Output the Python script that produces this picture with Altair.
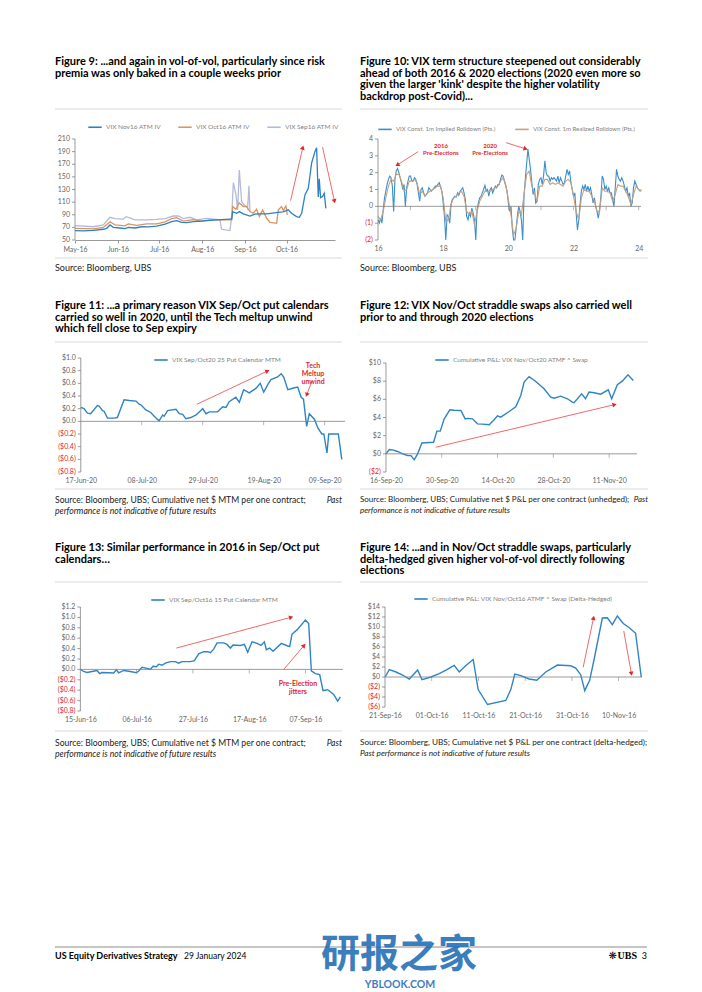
import math
import altair as alt
import pandas as pd

FONT = "Lato"
TITLE_C = "#000000"
TXT_C = "#1a1a1a"
AX_C = "#808080"
LBL_C = "#666666"
LEG_C = "#7f7f7f"
RED = "#e3262b"
ARROW_C = "#f06a6a"
SEP_C = "#d9d9d9"
BLUE = "#2f84c4"

# ---------------- Figure 9 (days since 1 May 2016) ----------------
f9_start = "2016-05-01"
f9_names = ["VIX Nov16 ATM IV", "VIX Oct16 ATM IV", "VIX Sep16 ATM IV"]
f9_colors = ["#2f80c2", "#d9955f", "#b4badc"]
f9_nov_day = [0, 6, 13.3, 20.5, 22.9, 25.3, 27.7, 32.5, 36.1, 38.6, 43.4, 48.2, 53, 59, 65.1, 69.9, 73.5,
              77.1, 80.7, 85.5, 91.6, 97.6, 102.4, 112, 113.3, 114, 116.9, 118.8, 121.7, 126.5, 130.1,
              133.7, 138.6, 148.2, 150.6, 154.2, 156.6, 160.2, 162.2, 163.9, 166.3, 168.7, 171.1, 173.5,
              174.7, 175.9, 176.6, 177.6, 179, 180.2, 181.4]
f9_nov_val = [64.8, 64.3, 65.4, 67, 68.5, 73.8, 70, 69, 68, 70, 69, 71, 70.7, 72, 75, 79, 80.7,
              78, 77.5, 79, 80, 81, 81.8, 83, 83, 95, 92.4, 95, 91.3, 88, 91,
              91.3, 91.3, 94, 94.5, 97.7, 92.4, 87, 86, 92.4, 121.5, 132, 172, 190,
              196, 118, 147, 117, 119, 124, 100]
f9_oct_day = [0, 13.3, 20.5, 25.3, 28.9, 36.1, 38.6, 44.6, 51.8, 59, 65.1, 69.9, 73.5, 78.3, 85.5, 91.6,
              97.6, 113.3, 114, 116.4, 118.8, 121.7, 124.1, 126.5, 128.9, 131.3, 133.3, 135.7, 138.6,
              141, 145.8, 147, 149.4, 150.6, 152.5, 153.5]
f9_oct_val = [68.5, 67.5, 70, 79, 74, 72.5, 75.4, 73.3, 75.4, 75.4, 78.6, 84, 85.5, 80, 82.3, 80,
              81.8, 81.8, 103, 98.7, 109, 103, 103, 95, 92.4, 98.7, 87, 97.7, 84.4,
              78, 76.5, 97.7, 103, 96.6, 104, 89.7]
f9_sep_day = [0, 13.3, 20.5, 25.3, 28.9, 34.9, 36.9, 38.6, 43.4, 51.8, 59, 65.1, 71.1, 74.7, 78.3, 83.1,
              88, 95.2, 104.8, 106, 112, 113.3, 114.5, 116.4, 117.6, 118.8, 120.5, 122.2, 124.1, 124.8,
              125.8, 126.5]
f9_sep_val = [72.8, 71, 73.8, 86, 84, 83, 87, 86, 81.8, 81.8, 82.8, 84, 88, 88, 84, 86,
              81.8, 84.4, 81.8, 67, 65, 87, 141, 121.5, 97.7, 161, 111, 105.6, 103, 100,
              136, 95]
f9_ticks = ["2016-05-01", "2016-06-01", "2016-07-01", "2016-08-01", "2016-09-01", "2016-10-01"]
f9_yvals = [50, 70, 90, 110, 130, 150, 170, 190, 210]
f9_arrow_from = [(155.9, 112.3), (179.0, 197.0)]
f9_arrow_to = [(164.6, 195.3), (187.5, 112.6)]

# ---------------- Figure 10 (decimal years) ----------------
f10_names = ["VIX Const. 1m Implied Rolldown (Pts.)", "VIX Const. 1m Realized Rolldown (Pts.)"]
f10_colors = ["#3a8fd0", "#c9a07a"]
f10_first_year = 2016
f10_imp_step = 0.04
f10_imp = [-0.8, -1.0, -0.7, -1.0, -0.2, 0.5, 0.9, 1.3, 1.6, 1.8,
           1.7, 1.2, -0.3, 1.6, 2.1, 2.25, 2.0, 1.7, 1.4, 1.0,
           1.3, 0.0, 1.1, 1.5, 1.8, 1.8, 1.5, 1.5, 1.7, 1.6,
           1.3, 0.8, 0.3, 1.0, 1.1, 0.8, 0.6, 0.7, 0.8, 1.1,
           1.0, 0.9, 1.0, 1.1, 1.2, 1.2, 1.3, 1.4, 1.15, 0.9,
           0.2, -0.6, -2.0, -0.5, -0.6, -1.0, 0.1, 0.4, 0.5, 0.6,
           0.55, 0.8, 0.65, 0.9, 1.0, 1.1, 0.8, 0.4, -0.6, -0.8,
           -0.4, -0.6, -0.1, -0.4, -0.8, -2.0, -0.2, 0.2, 0.5, 0.6,
           0.8, 1.0, 1.25, 0.9, 1.0, 0.6, 1.0, 1.1, 0.8, 1.0,
           1.2, 1.1, 1.3, 1.3, 1.6, 1.85, 1.8, 1.5, 1.2, 0.9,
           0.2, -0.3, 0.0, -1.3, -2.0, -2.0, -1.3, -0.5, 0.0, -0.3,
           -0.8, -2.0, 0.6, 1.6, 2.5, 3.4, 2.8, 2.2, 1.4, 0.7,
           1.1, 0.2, 0.3, 1.3, 1.6, 1.7, 1.3, 1.8, 2.7, 2.0,
           1.8, 1.8, 1.5, 1.7, 1.6, 1.7, 1.6, 1.5, 1.8, 1.4,
           1.7, 1.5, 1.3, 1.4, 1.8, 2.2, 1.9, 2.1, 1.4, 1.0,
           0.6, 0.8, -0.4, -1.4, -0.8, 0.1, 0.9, 1.2, 1.0, 1.3,
           0.9, 1.2, 0.9, 1.1, 0.7, 0.2, 0.5, 0.0, -0.3, -0.7,
           -0.2, 0.6, 1.8, 1.6, 1.0, 1.2, 0.9, 1.1, 0.8, 0.8,
           0.4, 0.0, 1.1, 2.2, 1.8, 1.6, 1.5, 1.7, 1.5, 1.2,
           0.9, 1.1, 0.6, 0.8, 0.0, 0.2, 1.1, 1.5, 1.3, 1.1,
           1.0, 0.9, 1.0]
f10_real_step = 0.08
f10_real = [-0.6, -0.8, -0.3, 0.5, 1.2, 1.6, 1.5, 1.9, 1.9, 1.5,
            0.9, 1.0, 1.5, 1.5, 1.6, 1.4, 0.7, 0.9, 0.6, 0.8,
            0.9, 1.0, 1.1, 1.2, 1.2, 0.5, -0.9, -0.8, 0.1, 0.5,
            0.6, 0.8, 0.9, 0.6, -0.3, -0.5, -0.3, -1.1, -0.3, 0.3,
            0.6, 0.9, 0.9, 0.9, 1.0, 1.1, 1.2, 1.5, 1.7, 1.3,
            0.4, -0.5, -1.7, -1.3, -0.3, -0.5, 0.7, 1.9, 2.1, 1.2,
            0.8, 0.3, 1.2, 1.2, 1.6, 1.6, 1.3, 1.4, 1.3, 1.4,
            1.3, 1.2, 1.5, 1.6, 1.4, 0.6, -0.3, -0.8, 0.5, 1.0,
            0.9, 0.9, 0.6, 0.3, -0.3, -0.3, 1.1, 0.9, 0.9, 0.8,
            0.3, 0.7, 1.3, 1.2, 1.2, 0.9, 0.6, 0.1, 0.7, 1.2,
            1.0, 0.9]
f10_years = [2016, 2017, 2018, 2019, 2020, 2021, 2022, 2023, 2024]
f10_yvals = [-2, -1, 0, 1, 2, 3, 4]
f10_notes = [(2017.93, 3.6, "2016\nPre-Elections"), (2019.44, 3.6, "2020\nPre-Elections")]
f10_arrow_from = [(2017.23, 3.25), (2019.93, 3.78)]
f10_arrow_to = [(2016.61, 2.48), (2020.51, 3.43)]

# ---------------- Figure 11 (days since 17 Jun 2020) ----------------
f11_start = "2020-06-17"
f11_name = "VIX Sep/Oct20 25 Put Calendar MTM"
f11_day = [0, 1.1, 2.3, 3.4, 5.7, 6.3, 7.5, 8, 9.2, 11.5, 12.6, 14.9, 16.7, 19, 20.1, 20.7, 22.4, 24.1,
           25.3, 26.4, 27, 28.2, 28.7, 29.9, 32.8, 33.9, 35.1, 36.2, 37.9, 39.7, 42, 43.1, 44.3, 47.1,
           48.9, 50, 51.1, 53.4, 54.6, 56.1, 58, 60.3, 61.8, 63, 64.4, 65.5, 67.8, 69, 69.9, 71.3, 73.6,
           74.7, 75.9, 76.7, 77.8, 78.7, 80.5, 81.6, 83, 83.7, 84.8, 85.4, 88.7, 89.9]
f11_val = [0.22, 0.20, 0.13, 0.12, 0.25, 0.24, 0.17, 0.16, 0.05, 0.05, 0.06, 0.34, 0.33, 0.32, 0.27, 0.26,
           0.18, 0.14, 0.08, 0.03, 0.01, 0.10, 0.08, 0.17, 0.19, 0.12, 0.11, 0.04, 0.06, 0.10, 0.20, 0.12,
           0.15, 0.15, 0.23, 0.22, 0.31, 0.38, 0.30, 0.50, 0.45, 0.52, 0.60, 0.46, 0.58, 0.66, 0.70, 0.75,
           0.70, 0.50, 0.53, 0.54, 0.38, 0.35, -0.08, 0.12, 0.03, -0.10, -0.20, -0.20, -0.50, -0.20,
           -0.20, -0.60]
f11_ticks = ["2020-06-17", "2020-07-08", "2020-07-29", "2020-08-19", "2020-09-09"]
f11_yvals = [-0.8, -0.6, -0.4, -0.2, 0.0, 0.2, 0.4, 0.6, 0.8, 1.0]
f11_notes = [(80.0, 0.87, "Tech\nMeltup\nunwind")]
f11_arrow_from = [(79.6, 0.63), (40.0, 0.27)]
f11_arrow_to = [(77.9, 0.43), (64.1, 0.79)]

# ---------------- Figure 12 (days since 16 Sep 2020) ----------------
f12_start = "2020-09-16"
f12_name = "Cumulative P&L: VIX Nov/Oct20 ATMF ^ Swap"
f12_day = [0, 0.84, 1.67, 2.92, 4.18, 5.43, 6.27, 7.1, 7.94, 9.02, 10.86, 11.95, 12.78, 13.62, 14.62,
           16.04, 17.13, 18.8, 19.88, 20.47, 21.72, 22.97, 24.23, 25.9, 26.98, 27.99, 28.82, 30.91,
           32.58, 33.83, 34.67, 35.92, 37.59, 39.68, 41.35, 42.19, 43.86, 45.53, 46.78, 47.2, 49.12,
           50.08, 50.96, 52.21, 53.88, 55.8, 56.64, 58.06, 59.31, 60.73, 62.07]
f12_val = [0, 0.48, 0.44, 0.26, 0, -0.18, -0.2, -0.66, 0, 1.2, 1.25, 1.28, 2.5, 2.5, 3.85,
           4.85, 4.8, 4.77, 3.85, 3.9, 3.85, 3.3, 3.27, 3.2, 3.67, 4.18, 4.04, 4.66,
           5.18, 6.42, 7.9, 8.5, 7.97, 7.16, 6.24, 6.13, 6.35, 6.06, 5.69, 5.62, 6.6,
           6.06, 6.8, 6.72, 6.57, 7.05, 6.06, 7.6, 8.0, 8.7, 8.08]
f12_ticks = ["2020-09-16", "2020-09-30", "2020-10-14", "2020-10-28", "2020-11-11"]
f12_yvals = [-2, 0, 2, 4, 6, 8, 10]
f12_arrow_from = [(12.5, 0.73)]
f12_arrow_to = [(57.2, 5.4)]

# ---------------- Figure 13 (days since 15 Jun 2016) ----------------
f13_start = "2016-06-15"
f13_name = "VIX Sep/Oct16 15 Put Calendar MTM"
f13_day = [0, 1.24, 2.49, 4.35, 6.22, 7.21, 8.08, 10.57, 12.44, 13.43, 14.3, 16.17, 18.66, 20.9, 21.77,
           23.01, 24.88, 26.12, 27.11, 28.36, 29.23, 30.47, 31.72, 33.58, 35.45, 36.69, 37.94, 41.04,
           42.54, 44.15, 46.02, 47.51, 48.51, 49.75, 51, 53.48, 54.73, 55.97, 56.97, 59.7, 61.19,
           62.44, 64.05, 65.92, 67.41, 68.66, 69.4, 70.65, 71.89, 75, 77.36, 78.11, 78.98, 80.85,
           83.96, 85.2, 86.19, 87.69, 89.3, 90.55, 91.42, 92.29, 94.53, 96.02, 97.01]
f13_val = [0, -0.04, -0.06, -0.04, -0.02, -0.08, -0.06, -0.065, -0.07, -0.01, -0.065, -0.02, -0.04,
           -0.065, -0.03, 0.04, 0.02, 0, 0.06, 0.05, 0.10, 0.08, 0.12, 0.15, 0.15, 0.12, 0.15, 0.15,
           0.17, 0.30, 0.34, 0.34, 0.32, 0.39, 0.51, 0.51, 0.48, 0.41, 0.47, 0.46, 0.48,
           0.33, 0.53, 0.50, 0.46, 0.53, 0.38, 0.41, 0.35, 0.50, 0.45, 0.44, 0.68, 0.76,
           0.95, 0.88, -0.03, -0.08, -0.10, -0.41, -0.40, -0.39, -0.48, -0.61, -0.53]
f13_ticks = ["2016-06-15", "2016-07-06", "2016-07-27", "2016-08-17", "2016-09-07"]
f13_yvals = [-0.8, -0.6, -0.4, -0.2, 0.0, 0.2, 0.4, 0.6, 0.8, 1.0, 1.2]
f13_notes = [(81.2, -0.28, "Pre-Election\njitters")]
f13_arrow_from = [(35.8, 0.41), (75.9, 0.0)]
f13_arrow_to = [(78.4, 1.0), (83.3, 0.45)]

# ---------------- Figure 14 (days since 21 Sep 2016) ----------------
f14_start = "2016-09-21"
f14_name = "Cumulative P&L: VIX Nov/Oct16 ATMF ^ Swap (Delta-Hedged)"
f14_day = [0, 0.93, 2.35, 3.77, 5.2, 6.98, 7.91, 9.83, 11.61, 13.25, 14.81, 15.88, 17.31, 18.87, 19.94,
           21.94, 25.85, 26.92, 27.78, 29.06, 30.84, 32.48, 34.4, 36.89, 39.74, 40.81, 41.88, 42.74,
           43.8, 44.73, 46.51, 47.58, 48.65, 49.72, 51, 52.21, 53.63, 54.84]
f14_val = [0, 1.46, 1.0, 0.4, -0.4, 1.39, -0.53, 0, 0.66, 1.46, 2.32, 1.0, 2.32, 3.5, -2.52,
           -5.5, -4.7, -2.52, 0.6, 0.27, -0.4, -0.66, 1.0, 2.39, 2.25, 1.79, 0.46, -2.72,
           -0.66, 3.45, 11.8, 11.85, 10.47, 12.2, 10.7, 9.9, 8.75, 0]
f14_ticks = ["2016-09-21", "2016-10-01", "2016-10-11", "2016-10-21", "2016-10-31", "2016-11-10"]
f14_yvals = [-6, -4, -2, 0, 2, 4, 6, 8, 10, 12, 14]
f14_arrow_from = [(42.4, 1.92), (51.1, 9.2)]
f14_arrow_to = [(44.6, 11.7), (52.7, 0.8)]

# ---------------- layout ----------------
ORIGIN_X, ORIGIN_Y = 75, 139
COL_GAP, ROW_GAP = 33, 118
SIZES = {9: (260, 101, 0), 10: (263, 101, 0), 11: (270, 114, 0),
         12: (259, 114, 5), 13: (268, 121, 17), 14: (264, 117, 17)}
col1_x = ORIGIN_X + max(SIZES[k][0] for k in (9, 11, 13)) + COL_GAP
row_y = [ORIGIN_Y]
row_y.append(row_y[0] + max(SIZES[9][1], SIZES[10][1]) + ROW_GAP)
row_y.append(row_y[1] + max(SIZES[11][1], SIZES[12][1]) + ROW_GAP)
GEOM = {}
for k, (col, row) in {9: (0, 0), 10: (1, 0), 11: (0, 1), 12: (1, 1), 13: (0, 2), 14: (1, 2)}.items():
    w, h, top = SIZES[k]
    GEOM[k] = dict(ox=ORIGIN_X if col == 0 else col1_x, oy=row_y[row], w=w, h=h, top=top)


def to_dt(ts):
    ts = pd.Timestamp(ts)
    return alt.DateTime(year=ts.year, month=ts.month, date=ts.day, hours=ts.hour)


def page_text(p, x, y, txt, size=8, weight="normal", style="normal", color=TXT_C,
              align="left", font=FONT, lh=None, opacity=1.0):
    g = GEOM[p]
    return alt.Chart(pd.DataFrame({"t": [txt]})).mark_text(
        align=align, baseline="middle", font=font, fontSize=size, fontWeight=weight,
        fontStyle=style, color=color, lineBreak="\n", lineHeight=lh if lh else size * 1.2,
        opacity=opacity,
    ).encode(x=alt.value(x - g["ox"]), y=alt.value(y - g["oy"]), text="t:N")


def page_hline(p, x1, x2, y, color=SEP_C, width=1.0):
    g = GEOM[p]
    return alt.Chart(pd.DataFrame({"a": [0]})).mark_rule(color=color, strokeWidth=width).encode(
        x=alt.value(x1 - g["ox"]), x2=alt.value(x2 - g["ox"]), y=alt.value(y - g["oy"]))


def column_texts(p, left, title, title_y, sep_top, sep_bot, src_lines, src_size):
    x1, x2 = (55, 342) if left else (360, 648)
    out = [page_text(p, x1, title_y, title, size=11, weight="bold", color=TITLE_C, lh=11.5),
           page_hline(p, x1, x2, sep_top), page_hline(p, x1, x2, sep_bot)]
    out += [page_text(p, x1 if a == "left" else x2, y, t, size=src_size, style=s, align=a)
            for (t, y, s, a) in src_lines]
    return out


def fmt_plain(v):
    return f"({abs(v):g})" if v < 0 else f"{v:g}"


def fmt_dollar1(v):
    return f"(${abs(v):.1f})" if v < 0 else f"${v:.1f}"


def fmt_dollar0(v):
    return f"(${abs(v):.0f})" if v < 0 else f"${v:.0f}"


NOAX = None


def build_panel(p, df, xtype, xscale, xaxis, ymin, ymax, yvals, yfmt, neg_red, names, colors,
                legend, ext_left, pxx, zero_ticks=None, stroke=1.4, arrows=None, notes=None,
                texts=(), note_size=7):
    g = GEOM[p]
    plot_h = g["h"] - g["top"]
    ytop = ymax + g["top"] * (ymax - ymin) / plot_h
    pxy = plot_h / (ymax - ymin)
    yscale = alt.Scale(domain=[ymin, ytop], nice=False, zero=False)
    layers = [alt.Chart(df).mark_line(strokeWidth=stroke).encode(
        x=alt.X(f"x:{xtype}", scale=xscale, axis=xaxis),
        y=alt.Y("v:Q", scale=yscale, axis=NOAX),
        color=alt.Color("s:N", scale=alt.Scale(domain=names, range=colors), legend=legend),
    )]
    # y axis: line, ticks and labels placed through the y scale
    layers.append(alt.Chart(pd.DataFrame({"a": [0]})).mark_rule(color=AX_C, strokeWidth=0.8).encode(
        x=alt.value(ext_left), y=alt.YDatum(ymin, axis=NOAX), y2=alt.datum(ymax)))
    ylab = pd.DataFrame({"y": yvals, "lab": [yfmt(v) for v in yvals],
                         "c": [RED if (neg_red and v < 0) else LBL_C for v in yvals]})
    layers.append(alt.Chart(ylab).mark_rule(color=AX_C, strokeWidth=0.8).encode(
        x=alt.value(ext_left - 3), x2=alt.value(ext_left), y=alt.Y("y:Q", axis=NOAX)))
    layers.append(alt.Chart(ylab).mark_text(align="right", baseline="middle", fontSize=7, font=FONT).encode(
        x=alt.value(ext_left - 5), y=alt.Y("y:Q", axis=NOAX), text="lab:N", color=alt.Color("c:N", scale=None)))
    if zero_ticks is not None:
        layers.append(alt.Chart(pd.DataFrame({"a": [0]})).mark_rule(color=AX_C, strokeWidth=0.8).encode(
            x=alt.value(ext_left), x2=alt.value(g["w"]), y=alt.YDatum(0, axis=NOAX)))
        layers.append(alt.Chart(pd.DataFrame({"x": zero_ticks})).mark_tick(
            orient="vertical", size=4, thickness=0.8, color=AX_C, yOffset=2).encode(
            x=alt.X(f"x:{xtype}"), y=alt.YDatum(0, axis=NOAX)))
    if arrows:
        conv, a_from, a_to = arrows
        rows, heads = [], []
        for k, ((xa, ya), (xb, yb)) in enumerate(zip(a_from, a_to)):
            rows += [{"id": k, "x": conv(xa), "y": ya}, {"id": k, "x": conv(xb), "y": yb}]
            ang = math.degrees(math.atan2((xb - xa) * pxx, (yb - ya) * pxy)) % 360
            heads.append({"x": conv(xb), "y": yb, "ang": ang})
        layers.append(alt.Chart(pd.DataFrame(rows)).mark_line(color=ARROW_C, strokeWidth=1).encode(
            x=alt.X(f"x:{xtype}"), y=alt.Y("y:Q", axis=NOAX), detail="id:N"))
        layers.append(alt.Chart(pd.DataFrame(heads)).mark_point(
            shape="triangle", filled=True, size=24, color=RED, opacity=1).encode(
            x=alt.X(f"x:{xtype}"), y=alt.Y("y:Q", axis=NOAX), angle=alt.Angle("ang:Q", scale=None)))
    if notes:
        conv, items = notes
        ndf = pd.DataFrame({"x": [conv(a) for a, _, _ in items], "y": [b for _, b, _ in items],
                            "t": [c for _, _, c in items]})
        layers.append(alt.Chart(ndf).mark_text(
            color=RED, fontWeight="bold", fontSize=note_size, font=FONT, lineBreak="\n",
            lineHeight=note_size + 1, align="center", baseline="middle").encode(
            x=alt.X(f"x:{xtype}"), y=alt.Y("y:Q", axis=NOAX), text="t:N"))
    layers += list(texts)
    return alt.layer(*layers).properties(width=g["w"], height=g["h"])


def legend_for(p, lx, ly, size=6.5, pad=14):
    return alt.Legend(title=None, orient="none", legendX=lx, legendY=ly, direction="horizontal",
                      symbolType="stroke", symbolSize=180, symbolStrokeWidth=1.6, labelFontSize=size,
                      labelColor=LEG_C, labelFont=FONT, columnPadding=pad, labelOffset=3, padding=0,
                      labelLimit=400)


def temporal(p, start, dom, series, names, colors, ticks, fmt, ymin, ymax, yvals, yfmt, neg_red,
             legend, zero, arrows=None, notes=None, texts=(), stroke=1.4):
    g = GEOM[p]
    d0, d1 = pd.Timestamp(dom[0]), pd.Timestamp(dom[1])
    total = (d1 - d0) / pd.Timedelta(days=1)
    pxx = g["w"] / total
    ext_left = ((pd.Timestamp(start) - d0) / pd.Timedelta(days=1)) * pxx
    conv = lambda d: pd.Timestamp(start) + pd.Timedelta(days=d)
    rows = []
    for name, days, vals in series:
        rows += [{"x": conv(d), "v": v, "s": name} for d, v in zip(days, vals)]
    df = pd.DataFrame(rows)
    xscale = alt.Scale(domain=[to_dt(d0), to_dt(d1)])
    if zero:
        xaxis = alt.Axis(values=[to_dt(t) for t in ticks], format=fmt, title=None, domain=False,
                         ticks=False, tickSize=0, labelPadding=4, labelFlush=False, labelOverlap=False,
                         labelFontSize=7, labelColor=LBL_C, labelFont=FONT, grid=False)
        zt = [pd.Timestamp(t) for t in ticks[1:]]
    else:
        xaxis = alt.Axis(values=[to_dt(t) for t in ticks], format=fmt, title=None, domain=True,
                         domainColor=AX_C, domainWidth=0.8, ticks=True, tickSize=3, tickColor=AX_C,
                         tickWidth=0.8, labelPadding=2, labelFlush=False, labelOverlap=False,
                         labelFontSize=7, labelColor=LBL_C, labelFont=FONT, grid=False)
        zt = None
    return build_panel(p, df, "T", xscale, xaxis, ymin, ymax, yvals, yfmt, neg_red, names, colors,
                       legend, ext_left, pxx, zero_ticks=zt, stroke=stroke,
                       arrows=(conv, arrows[0], arrows[1]) if arrows else None,
                       notes=(conv, notes) if notes else None, texts=texts)


SRC_PAST = "performance is not indicative of future results"

# ---- panel 9 ----
g9 = GEOM[9]
anchor = alt.Chart(pd.DataFrame({"a": [0]})).mark_rect(opacity=0).encode(
    x=alt.value(-g9["ox"]), x2=alt.value(702 - g9["ox"]), y=alt.value(-g9["oy"]), y2=alt.value(992 - g9["oy"]))
t9 = [anchor] + column_texts(
    9, True, "Figure 9: ...and again in vol-of-vol, particularly since risk\npremia was only baked in a couple weeks prior",
    62, 109, 258, [("Source: Bloomberg, UBS", 268, "normal", "left")], 9)
p9 = temporal(9, f9_start, ("2016-05-01", "2016-11-05"),
              [(f9_names[2], f9_sep_day, f9_sep_val), (f9_names[1], f9_oct_day, f9_oct_val),
               (f9_names[0], f9_nov_day, f9_nov_val)],
              f9_names, f9_colors, f9_ticks, "%b-%y", 50, 210, f9_yvals, fmt_plain, False,
              legend_for(9, 12, -20, 6.5, 14), False, arrows=(f9_arrow_from, f9_arrow_to), texts=t9,
              stroke=1.3)

# ---- panel 10 ----
g10 = GEOM[10]
t10 = column_texts(
    10, False, "Figure 10: VIX term structure steepened out considerably\nahead of both 2016 & 2020 elections (2020 even more so\ngiven the larger 'kink' despite the higher volatility\nbackdrop post-Covid)...",
    62, 109, 258, [("Source: Bloomberg, UBS", 268, "normal", "left")], 9)
df10 = pd.DataFrame(
    [{"x": f10_first_year + f10_imp_step * i, "v": v, "s": f10_names[0]} for i, v in enumerate(f10_imp)] +
    [{"x": f10_first_year + f10_real_step * i, "v": v, "s": f10_names[1]} for i, v in enumerate(f10_real)])
f10_xmax = 2024.07
pxx10 = g10["w"] / (f10_xmax - f10_first_year)
x10_axis = alt.Axis(values=f10_years, labelExpr="substring(toString(datum.value), 2)", title=None,
                    domain=False, ticks=False, tickSize=0, labelPadding=4, labelFlush=False,
                    labelOverlap=False, labelFontSize=7, labelColor=LBL_C, labelFont=FONT, grid=False)
ident = lambda v: v
p10 = build_panel(10, df10, "Q", alt.Scale(domain=[f10_first_year, f10_xmax], nice=False, zero=False),
                  x10_axis, -2, 4, f10_yvals, fmt_plain, True, f10_names, f10_colors,
                  legend_for(10, -1, -18, 6, 16), 0, pxx10,
                  zero_ticks=f10_years[1:], stroke=1.1, arrows=(ident, f10_arrow_from, f10_arrow_to),
                  notes=(ident, f10_notes), texts=t10, note_size=6)

# ---- panel 11 ----
t11 = column_texts(
    11, True, "Figure 11: ...a primary reason VIX Sep/Oct put calendars\ncarried so well in 2020, until the Tech meltup unwind\nwhich fell close to Sep expiry",
    306, 342, 489,
    [("Source: Bloomberg, UBS; Cumulative net $ MTM per one contract;", 500, "normal", "left"),
     ("Past", 500, "italic", "right"), (SRC_PAST, 511, "italic", "left")], 8.6)
p11 = temporal(11, f11_start, ("2020-06-15", "2020-09-16"), [(f11_name, f11_day, f11_val)],
               [f11_name], [BLUE], f11_ticks, "%d-%b-%y", -0.8, 1.0, f11_yvals, fmt_dollar1, True,
               legend_for(11, 78, -6), True, arrows=(f11_arrow_from, f11_arrow_to), notes=f11_notes,
               texts=t11)

# ---- panel 12 ----
t12 = column_texts(
    12, False, "Figure 12: VIX Nov/Oct straddle swaps also carried well\nprior to and through 2020 elections",
    306, 342, 489,
    [("Source: Bloomberg, UBS; Cumulative net $ P&L per one contract (unhedged);", 500, "normal", "left"),
     ("Past", 500, "italic", "right"), (SRC_PAST, 511, "italic", "left")], 8)
p12 = temporal(12, f12_start, ("2020-09-14", "2020-11-18"), [(f12_name, f12_day, f12_val)],
               [f12_name], [BLUE], f12_ticks, "%d-%b-%y", -2, 10, f12_yvals, fmt_dollar0, True,
               legend_for(12, 56, -6), True, arrows=(f12_arrow_from, f12_arrow_to), texts=t12)

# ---- panel 13 (+ footer) ----
t13 = column_texts(
    13, True, "Figure 13: Similar performance in 2016 in Sep/Oct put\ncalendars…",
    548, 582, 731,
    [("Source: Bloomberg, UBS; Cumulative net $ MTM per one contract;", 743, "normal", "left"),
     ("Past", 743, "italic", "right"), (SRC_PAST, 754, "italic", "left")], 8.6)
t13 += [
    page_hline(13, 55, 647, 947, color="#8c8c8c", width=1.2),
    page_text(13, 55, 956, "US Equity Derivatives Strategy", size=9, weight="bold", color="#000"),
    page_text(13, 184, 956, "29 January 2024", size=8.5, color="#000"),
    page_text(13, 647, 956, "3", size=9, color="#000", align="right"),
    page_text(13, 637, 956, "UBS", size=10, weight="bold", color="#000", align="right", font="Liberation Serif"),
    page_text(13, 617, 956, "❋", size=10, color="#000", align="right", font="DejaVu Sans"),
    page_text(13, 321, 955, "研报之家", size=39, weight="bold", color="#1f6db5", font="Noto Sans CJK SC", opacity=0.88),
    page_text(13, 400, 985, "YBLOOK.COM", size=10.5, weight="bold", color="#1f6db5", align="center", opacity=0.88),
]
p13 = temporal(13, f13_start, ("2016-06-13", "2016-09-21"), [(f13_name, f13_day, f13_val)],
               [f13_name], [BLUE], f13_ticks, "%d-%b-%y", -0.8, 1.2, f13_yvals, fmt_dollar1, True,
               legend_for(13, 75, 2), True, arrows=(f13_arrow_from, f13_arrow_to), notes=f13_notes,
               texts=t13)

# ---- panel 14 ----
t14 = column_texts(
    14, False, "Figure 14: ...and in Nov/Oct straddle swaps, particularly\ndelta-hedged given higher vol-of-vol directly following\nelections",
    548, 582, 731,
    [("Source: Bloomberg, UBS; Cumulative net $ P&L per one contract (delta-hedged);", 743, "normal", "left"),
     ("Past " + SRC_PAST, 754, "italic", "left")], 8.2)
p14 = temporal(14, f14_start, ("2016-09-19 12:00", "2016-11-15"), [(f14_name, f14_day, f14_val)],
               [f14_name], [BLUE], f14_ticks, "%d-%b-%y", -6, 14, f14_yvals, fmt_dollar0, True,
               legend_for(14, 35, 1), True, arrows=(f14_arrow_from, f14_arrow_to), texts=t14)

chart = alt.concat(
    p9, p10, p11, p12, p13, p14, columns=2,
    spacing={"row": ROW_GAP, "column": COL_GAP}, bounds="flush", align="each", padding=0,
    background="white",
).resolve_scale(x="independent", y="independent", color="independent").configure_view(
    strokeWidth=0).configure_axis(grid=False, labelFont=FONT).configure_legend(labelFont=FONT)

chart.save("out.html", embed_options={"renderer": "svg", "actions": False})
